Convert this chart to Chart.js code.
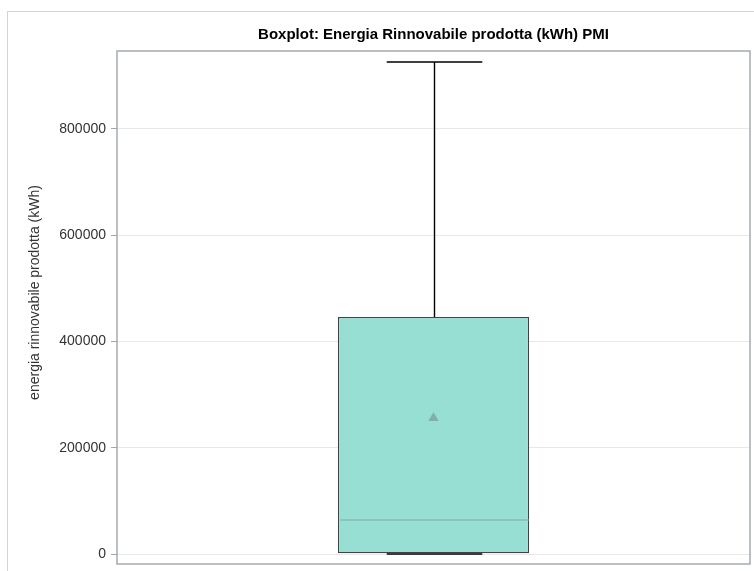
<html>
<head>
    <meta charset="utf-8" />
    <title>Boxplot Energia Rinnovabile PMI</title>
    <script src="https://cdn.jsdelivr.net/npm/chart.js@4.4.1/dist/chart.umd.min.js"></script>
    <style>
        html, body {
            margin: 0;
            padding: 0;
            background: #fff;
            overflow: hidden;
        }
        #frame {
            position: absolute;
            left: 7px;
            top: 11px;
            width: 900px;
            height: 620px;
            border-top: 1px solid #d4d4d4;
            border-left: 1px solid #d4d4d4;
        }
        #chartBox {
            position: absolute;
            left: 0;
            top: 0;
            width: 851px;
            height: 600px;
        }
    </style>
</head>
<body>
    <div id="frame">
        <div id="chartBox"><canvas id="boxChart"></canvas></div>
    </div>

    <script>
        // data
        const categories = ["PMI"];
        const minValues = [0];
        const q1Values = [1500];
        const medianValues = [64000];
        const meanValues = [256000];
        const q3Values = [446000];
        const maxValues = [926000];
        const yTicks = [0, 200000, 400000, 600000, 800000];
        const yMin = -18800;
        const yMax = 946800;
        const yTitle = "energia rinnovabile prodotta (kWh)";

        const fontFamily = "'Liberation Sans', Arial, sans-serif";

        // whiskers, caps, median line, plot frame and y title
        const boxExtras = {
            id: "boxExtras",
            afterDatasetsDraw(chart) {
                const ctx = chart.ctx;
                const xs = chart.scales.x;
                const ys = chart.scales.y;
                const bars = chart.getDatasetMeta(0).data;
                ctx.save();
                categories.forEach((c, i) => {
                    const cx = Math.round(xs.getPixelForValue(i)) + 0.5;
                    const boxW = bars[i].width;
                    const capW = boxW * 0.5;
                    const yMaxPx = ys.getPixelForValue(maxValues[i]);
                    const yQ3 = ys.getPixelForValue(q3Values[i]);
                    const yQ1 = ys.getPixelForValue(q1Values[i]);
                    const yMinPx = ys.getPixelForValue(minValues[i]);
                    const yMed = ys.getPixelForValue(medianValues[i]);

                    ctx.strokeStyle = "#000";
                    ctx.lineWidth = 1.4;
                    ctx.beginPath();
                    ctx.moveTo(cx, yQ3);
                    ctx.lineTo(cx, yMaxPx);
                    ctx.moveTo(cx - capW / 2, yMaxPx);
                    ctx.lineTo(cx + capW / 2, yMaxPx);
                    ctx.moveTo(cx, yQ1);
                    ctx.lineTo(cx, yMinPx);
                    ctx.moveTo(cx - capW / 2, yMinPx);
                    ctx.lineTo(cx + capW / 2, yMinPx);
                    ctx.stroke();

                    ctx.strokeStyle = "#84aba7";
                    ctx.lineWidth = 1.2;
                    ctx.beginPath();
                    ctx.moveTo(cx - boxW / 2 + 1, yMed);
                    ctx.lineTo(cx + boxW / 2 - 1, yMed);
                    ctx.stroke();
                });

                const a = chart.chartArea;
                ctx.strokeStyle = "#a4abb0";
                ctx.lineWidth = 1.5;
                ctx.strokeRect(a.left, a.top, a.right - a.left, a.bottom - a.top);

                // y title sits a bit above the middle of the plot in the reference
                ctx.translate(ys.left + 27, (a.top + a.bottom) / 2 - 15);
                ctx.rotate(-Math.PI / 2);
                ctx.fillStyle = "#333";
                ctx.font = "14px " + fontFamily;
                ctx.textAlign = "center";
                ctx.textBaseline = "middle";
                ctx.fillText(yTitle, 0, 0);
                ctx.restore();
            }
        };

        const ctx = document.getElementById("boxChart").getContext("2d");
        const boxChart = new Chart(ctx, {
            type: "bar",
            data: {
                labels: categories,
                datasets: [
                    {
                        label: "box",
                        data: categories.map((c, i) => [q1Values[i], q3Values[i]]),
                        backgroundColor: "#97dfd3",
                        borderColor: "#3d4443",
                        borderWidth: 1.3,
                        borderSkipped: false,
                        categoryPercentage: 1,
                        barPercentage: 0.302,
                        order: 2
                    },
                    {
                        type: "line",
                        label: "media",
                        data: meanValues,
                        showLine: false,
                        pointStyle: "triangle",
                        pointRadius: 6,
                        pointBackgroundColor: "#80b0ac",
                        pointBorderColor: "#80b0ac",
                        pointBorderWidth: 0,
                        order: 1
                    }
                ]
            },
            options: {
                responsive: true,
                maintainAspectRatio: false,
                animation: false,
                layout: {
                    padding: { left: 0, right: 0, top: 0, bottom: 48 }
                },
                plugins: {
                    legend: { display: false },
                    tooltip: { enabled: false },
                    title: {
                        display: true,
                        text: "Boxplot: Energia Rinnovabile prodotta (kWh) PMI",
                        color: "#000",
                        font: { family: fontFamily, size: 15, weight: "bold", lineHeight: 1.2 },
                        padding: { top: 14, bottom: 7 }
                    }
                },
                scales: {
                    x: {
                        type: "category",
                        display: false,
                        offset: true
                    },
                    y: {
                        min: yMin,
                        max: yMax,
                        afterFit(scale) {
                            scale.width = 109;
                        },
                        afterBuildTicks(scale) {
                            scale.ticks = yTicks.map(v => ({ value: v }));
                        },
                        ticks: {
                            color: "#333",
                            padding: 5,
                            font: { family: fontFamily, size: 14 },
                            callback: v => String(v)
                        },
                        grid: {
                            color: "#e8e8e8",
                            tickColor: "#9ea6ab",
                            tickLength: 6,
                            lineWidth: 1
                        },
                        border: { display: false },
                        title: { display: false }
                    },
                    // empty right axis, only keeps space so the plot ends where the reference does
                    yRight: {
                        position: "right",
                        display: true,
                        afterFit(scale) {
                            scale.width = 109;
                        },
                        ticks: { display: false },
                        grid: { display: false },
                        border: { display: false }
                    }
                }
            },
            plugins: [boxExtras]
        });
    </script>
</body>
</html>
